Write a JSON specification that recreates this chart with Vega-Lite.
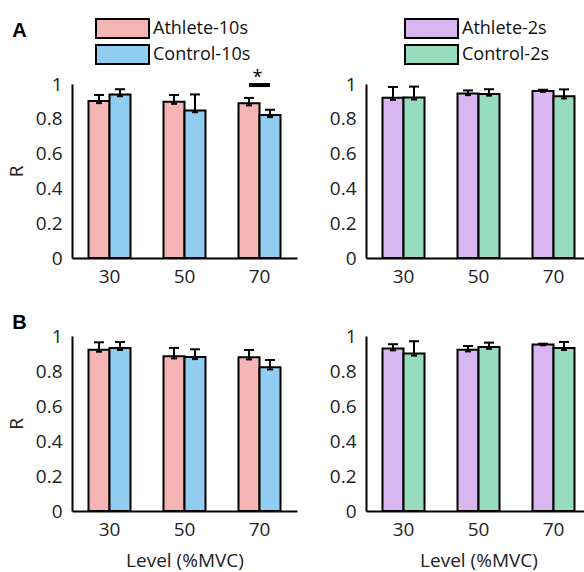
{
  "$schema": "https://vega.github.io/schema/vega-lite/v6.json",
  "padding": {"left": 7, "top": 18, "right": 0, "bottom": 3},
  "config": {
    "font": "Open Sans",
    "view": {"stroke": null},
    "tick": {"opacity": 1},
    "axis": {"domainColor": "black", "domainWidth": 2, "ticks": false, "grid": false, "labelFontSize": 19, "labelColor": "#222", "titleFontSize": 19, "titleFontWeight": "normal", "titleColor": "#222", "labelOverlap": false},
    "legend": {"labelFontSize": 18, "labelColor": "#111", "symbolStrokeColor": "black", "symbolStrokeWidth": 2, "symbolOpacity": 1},
    "title": {"font": "Liberation Sans", "fontSize": 20, "fontWeight": "bold", "anchor": "start", "color": "black"}
  },
  "datasets": {
    "A10": [
      {"level": "30", "group": "Athlete", "series": "Athlete-10s", "value": 0.902, "lo": 0.89, "hi": 0.937},
      {"level": "30", "group": "Control", "series": "Control-10s", "value": 0.94, "lo": 0.93, "hi": 0.97},
      {"level": "50", "group": "Athlete", "series": "Athlete-10s", "value": 0.898, "lo": 0.886, "hi": 0.937},
      {"level": "50", "group": "Control", "series": "Control-10s", "value": 0.848, "lo": 0.838, "hi": 0.94},
      {"level": "70", "group": "Athlete", "series": "Athlete-10s", "value": 0.889, "lo": 0.877, "hi": 0.92},
      {"level": "70", "group": "Control", "series": "Control-10s", "value": 0.822, "lo": 0.81, "hi": 0.852}
    ],
    "A2": [
      {"level": "30", "group": "Athlete", "series": "Athlete-2s", "value": 0.921, "lo": 0.909, "hi": 0.983},
      {"level": "30", "group": "Control", "series": "Control-2s", "value": 0.923, "lo": 0.911, "hi": 0.985},
      {"level": "50", "group": "Athlete", "series": "Athlete-2s", "value": 0.946, "lo": 0.936, "hi": 0.963},
      {"level": "50", "group": "Control", "series": "Control-2s", "value": 0.943, "lo": 0.933, "hi": 0.97},
      {"level": "70", "group": "Athlete", "series": "Athlete-2s", "value": 0.96, "lo": 0.955, "hi": 0.967},
      {"level": "70", "group": "Control", "series": "Control-2s", "value": 0.929, "lo": 0.917, "hi": 0.969}
    ],
    "B10": [
      {"level": "30", "group": "Athlete", "series": "Athlete-10s", "value": 0.922, "lo": 0.91, "hi": 0.964},
      {"level": "30", "group": "Control", "series": "Control-10s", "value": 0.932, "lo": 0.92, "hi": 0.966},
      {"level": "50", "group": "Athlete", "series": "Athlete-10s", "value": 0.884, "lo": 0.872, "hi": 0.932},
      {"level": "50", "group": "Control", "series": "Control-10s", "value": 0.88, "lo": 0.868, "hi": 0.924},
      {"level": "70", "group": "Athlete", "series": "Athlete-10s", "value": 0.878, "lo": 0.866, "hi": 0.92},
      {"level": "70", "group": "Control", "series": "Control-10s", "value": 0.821, "lo": 0.809, "hi": 0.863}
    ],
    "B2": [
      {"level": "30", "group": "Athlete", "series": "Athlete-2s", "value": 0.928, "lo": 0.918, "hi": 0.953},
      {"level": "30", "group": "Control", "series": "Control-2s", "value": 0.9, "lo": 0.888, "hi": 0.97},
      {"level": "50", "group": "Athlete", "series": "Athlete-2s", "value": 0.922, "lo": 0.912, "hi": 0.943},
      {"level": "50", "group": "Control", "series": "Control-2s", "value": 0.937, "lo": 0.927, "hi": 0.962},
      {"level": "70", "group": "Athlete", "series": "Athlete-2s", "value": 0.951, "lo": 0.947, "hi": 0.956},
      {"level": "70", "group": "Control", "series": "Control-2s", "value": 0.932, "lo": 0.92, "hi": 0.966}
    ],
    "sig": [
      {"level": "70", "bar": 0.994, "star": 1.035, "label": "*"}
    ]
  },
  "concat": [
    {
      "title": {"text": "A", "offset": -23, "dx": 5},
      "width": 225, "height": 174,
      "data": {"name": "A10"},
      "layer": [
        {
          "mark": {"type": "bar", "stroke": "black", "strokeWidth": 2},
          "encoding": {
            "x": {"field": "level", "type": "nominal", "scale": {"paddingInner": 0.44, "paddingOuter": 0.22}, "axis": {"title": null, "labelAngle": 0, "labelPadding": 9}},
            "xOffset": {"field": "group", "type": "nominal", "scale": {"paddingInner": 0, "paddingOuter": 0}},
            "y": {"field": "value", "type": "quantitative", "scale": {"domain": [0, 1]}, "axis": {"title": "R", "values": [0, 0.2, 0.4, 0.6, 0.8, 1], "tickCount": 10, "format": "~g", "labelOverlap": false, "labelPadding": 10, "titlePadding": 9}},
            "color": {"field": "series", "type": "nominal", "scale": {"domain": ["Athlete-10s", "Control-10s"], "range": ["#F5B5B5", "#90CDF0"]}, "legend": {"title": null, "orient": "none", "legendX": 23, "legendY": -66, "symbolType": "M-1,-1L4.58,-1L4.58,1L-1,1Z", "symbolSize": 361, "rowPadding": -1, "labelOffset": 37}}
          }
        },
        {
          "mark": {"type": "rule", "color": "black", "strokeWidth": 2},
          "encoding": {
            "x": {"field": "level", "type": "nominal"},
            "xOffset": {"field": "group", "type": "nominal"},
            "y": {"field": "lo", "type": "quantitative"},
            "y2": {"field": "hi"}
          }
        },
        {
          "mark": {"type": "tick", "color": "black", "size": 10, "thickness": 2, "opacity": 1},
          "encoding": {
            "x": {"field": "level", "type": "nominal"},
            "xOffset": {"field": "group", "type": "nominal"},
            "y": {"field": "hi", "type": "quantitative"}
          }
        },
        {
          "mark": {"type": "tick", "color": "black", "size": 6, "thickness": 2, "opacity": 1},
          "encoding": {
            "x": {"field": "level", "type": "nominal"},
            "xOffset": {"field": "group", "type": "nominal"},
            "y": {"field": "lo", "type": "quantitative"}
          }
        },
        {
          "data": {"name": "sig"},
          "mark": {"type": "tick", "color": "black", "size": 21, "thickness": 4, "opacity": 1},
          "encoding": {
            "x": {"field": "level", "type": "nominal"},
            "y": {"field": "bar", "type": "quantitative"}
          }
        },
        {
          "data": {"name": "sig"},
          "mark": {"type": "text", "color": "black", "fontSize": 18, "baseline": "middle", "dx": -2},
          "encoding": {
            "x": {"field": "level", "type": "nominal"},
            "y": {"field": "star", "type": "quantitative"},
            "text": {"field": "label"}
          }
        }
      ]
    },
    {
      "width": 225, "height": 174,
      "data": {"name": "A2"},
      "layer": [
        {
          "mark": {"type": "bar", "stroke": "black", "strokeWidth": 2},
          "encoding": {
            "x": {"field": "level", "type": "nominal", "scale": {"paddingInner": 0.44, "paddingOuter": 0.22}, "axis": {"title": null, "labelAngle": 0, "labelPadding": 9}},
            "xOffset": {"field": "group", "type": "nominal", "scale": {"paddingInner": 0, "paddingOuter": 0}},
            "y": {"field": "value", "type": "quantitative", "scale": {"domain": [0, 1]}, "axis": {"title": null, "values": [0, 0.2, 0.4, 0.6, 0.8, 1], "tickCount": 10, "format": "~g", "labelOverlap": false, "labelPadding": 10}},
            "color": {"field": "series", "type": "nominal", "scale": {"domain": ["Athlete-2s", "Control-2s"], "range": ["#D8B6F0", "#98DCC0"]}, "legend": {"title": null, "orient": "none", "legendX": 38, "legendY": -66, "symbolType": "M-1,-1L4.58,-1L4.58,1L-1,1Z", "symbolSize": 361, "rowPadding": -1, "labelOffset": 37}}
          }
        },
        {
          "mark": {"type": "rule", "color": "black", "strokeWidth": 2},
          "encoding": {
            "x": {"field": "level", "type": "nominal"},
            "xOffset": {"field": "group", "type": "nominal"},
            "y": {"field": "lo", "type": "quantitative"},
            "y2": {"field": "hi"}
          }
        },
        {
          "mark": {"type": "tick", "color": "black", "size": 10, "thickness": 2, "opacity": 1},
          "encoding": {
            "x": {"field": "level", "type": "nominal"},
            "xOffset": {"field": "group", "type": "nominal"},
            "y": {"field": "hi", "type": "quantitative"}
          }
        },
        {
          "mark": {"type": "tick", "color": "black", "size": 6, "thickness": 2, "opacity": 1},
          "encoding": {
            "x": {"field": "level", "type": "nominal"},
            "xOffset": {"field": "group", "type": "nominal"},
            "y": {"field": "lo", "type": "quantitative"}
          }
        }
      ]
    },
    {
      "title": {"text": "B", "offset": -6, "dx": 5},
      "width": 225, "height": 175,
      "data": {"name": "B10"},
      "layer": [
        {
          "mark": {"type": "bar", "stroke": "black", "strokeWidth": 2},
          "encoding": {
            "x": {"field": "level", "type": "nominal", "scale": {"paddingInner": 0.44, "paddingOuter": 0.22}, "axis": {"title": "Level (%MVC)", "labelAngle": 0, "labelPadding": 9, "titlePadding": 12}},
            "xOffset": {"field": "group", "type": "nominal", "scale": {"paddingInner": 0, "paddingOuter": 0}},
            "y": {"field": "value", "type": "quantitative", "scale": {"domain": [0, 1]}, "axis": {"title": "R", "values": [0, 0.2, 0.4, 0.6, 0.8, 1], "tickCount": 10, "format": "~g", "labelOverlap": false, "labelPadding": 10, "titlePadding": 9}},
            "color": {"field": "series", "type": "nominal", "scale": {"domain": ["Athlete-10s", "Control-10s"], "range": ["#F5B5B5", "#90CDF0"]}, "legend": null}
          }
        },
        {
          "mark": {"type": "rule", "color": "black", "strokeWidth": 2},
          "encoding": {
            "x": {"field": "level", "type": "nominal"},
            "xOffset": {"field": "group", "type": "nominal"},
            "y": {"field": "lo", "type": "quantitative"},
            "y2": {"field": "hi"}
          }
        },
        {
          "mark": {"type": "tick", "color": "black", "size": 10, "thickness": 2, "opacity": 1},
          "encoding": {
            "x": {"field": "level", "type": "nominal"},
            "xOffset": {"field": "group", "type": "nominal"},
            "y": {"field": "hi", "type": "quantitative"}
          }
        },
        {
          "mark": {"type": "tick", "color": "black", "size": 6, "thickness": 2, "opacity": 1},
          "encoding": {
            "x": {"field": "level", "type": "nominal"},
            "xOffset": {"field": "group", "type": "nominal"},
            "y": {"field": "lo", "type": "quantitative"}
          }
        }
      ]
    },
    {
      "width": 225, "height": 175,
      "data": {"name": "B2"},
      "layer": [
        {
          "mark": {"type": "bar", "stroke": "black", "strokeWidth": 2},
          "encoding": {
            "x": {"field": "level", "type": "nominal", "scale": {"paddingInner": 0.44, "paddingOuter": 0.22}, "axis": {"title": "Level (%MVC)", "labelAngle": 0, "labelPadding": 9, "titlePadding": 12}},
            "xOffset": {"field": "group", "type": "nominal", "scale": {"paddingInner": 0, "paddingOuter": 0}},
            "y": {"field": "value", "type": "quantitative", "scale": {"domain": [0, 1]}, "axis": {"title": null, "values": [0, 0.2, 0.4, 0.6, 0.8, 1], "tickCount": 10, "format": "~g", "labelOverlap": false, "labelPadding": 10}},
            "color": {"field": "series", "type": "nominal", "scale": {"domain": ["Athlete-2s", "Control-2s"], "range": ["#D8B6F0", "#98DCC0"]}, "legend": null}
          }
        },
        {
          "mark": {"type": "rule", "color": "black", "strokeWidth": 2},
          "encoding": {
            "x": {"field": "level", "type": "nominal"},
            "xOffset": {"field": "group", "type": "nominal"},
            "y": {"field": "lo", "type": "quantitative"},
            "y2": {"field": "hi"}
          }
        },
        {
          "mark": {"type": "tick", "color": "black", "size": 10, "thickness": 2, "opacity": 1},
          "encoding": {
            "x": {"field": "level", "type": "nominal"},
            "xOffset": {"field": "group", "type": "nominal"},
            "y": {"field": "hi", "type": "quantitative"}
          }
        },
        {
          "mark": {"type": "tick", "color": "black", "size": 6, "thickness": 2, "opacity": 1},
          "encoding": {
            "x": {"field": "level", "type": "nominal"},
            "xOffset": {"field": "group", "type": "nominal"},
            "y": {"field": "lo", "type": "quantitative"}
          }
        }
      ]
    }
  ],
  "columns": 2,
  "spacing": {"row": 78, "column": 69},
  "bounds": "flush",
  "resolve": {"scale": {"color": "independent", "x": "independent", "y": "independent", "xOffset": "independent"}, "legend": {"color": "independent"}}
}
